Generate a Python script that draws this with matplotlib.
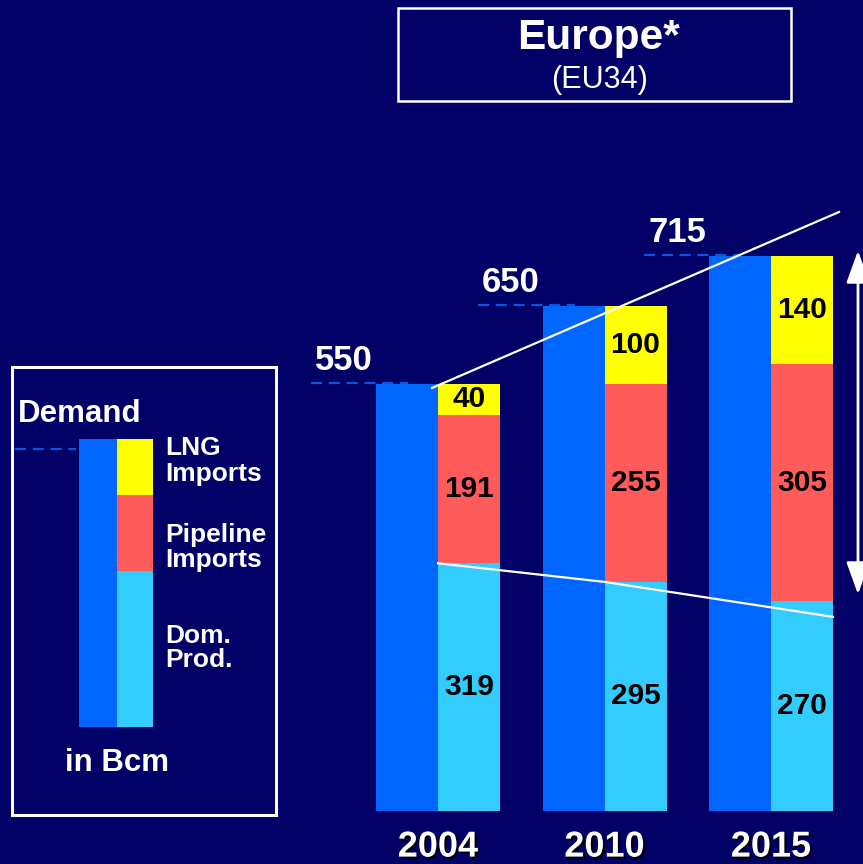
import matplotlib.pyplot as plt
import matplotlib.patheffects as pe
from matplotlib.patches import Rectangle, FancyArrowPatch
import numpy as np

plt.rcParams['font.family'] = ['Liberation Sans', 'DejaVu Sans']

years = ['2004', '2010', '2015']
demand = [550, 650, 715]
dom_prod = [319, 295, 270]
pipeline = [191, 255, 305]
lng = [40, 100, 140]

bg = '#000066'
c_dem = '#0066FF'
c_dom = '#33CCFF'
c_pipe = '#FF5B5B'
c_lng = '#FFFF00'

W, H = 863, 864
fig = plt.figure(figsize=(W / 100, H / 100), dpi=100, facecolor=bg)

# bar area: 1 unit on x = 166.5 px, 1 Bcm = 0.7766 px, base line at y=811 px
sx, sy, x0, y0 = 166.5, 0.7766, 438, 811
ax = fig.add_axes([0, 0, 1, 1])
ax.set_facecolor(bg)
ax.set_xlim(-x0 / sx, (W - x0) / sx)
ax.set_ylim(-(H - y0) / sy, y0 / sy)
ax.axis('off')

def fx(px):
    return px / W

def fy(py):
    return 1 - py / H

def dx(px):
    return (px - x0) / sx

def dy(py):
    return (y0 - py) / sy

x = np.arange(len(years))
w = 62 / sx
ax.bar(x - w / 2, demand, width=w, color=c_dem, linewidth=0)
ax.bar(x + w / 2, dom_prod, width=w, color=c_dom, linewidth=0)
ax.bar(x + w / 2, pipeline, width=w, bottom=dom_prod, color=c_pipe, linewidth=0)
b2 = np.array(dom_prod) + np.array(pipeline)
ax.bar(x + w / 2, lng, width=w, bottom=b2, color=c_lng, linewidth=0)

for i in range(len(years)):
    left = x[i] - w
    ax.plot([left - 65 / sx, left + 32 / sx], [demand[i] + 1, demand[i] + 1],
            color='#0A55E0', lw=1.6, dashes=(5, 3))
    ax.annotate(str(demand[i]), (left - 32 / sx, demand[i]), xytext=(0, 5),
                textcoords='offset points', ha='center', va='bottom',
                color='white', fontsize=25, fontweight='bold')
    segs = [(0, dom_prod[i]), (dom_prod[i], pipeline[i]), (b2[i], lng[i])]
    for b, v in segs:
        ax.text(x[i] + w / 2, b + v / 2, str(v), ha='center', va='center',
                color='black', fontsize=21.5, fontweight='bold')
    ax.annotate(years[i], (x[i], 0), xytext=(0, -26), textcoords='offset points',
                ha='center', va='center', color='white', fontsize=26, fontweight='bold',
                path_effects=[pe.withSimplePatchShadow(offset=(1.5, -1.5),
                                                       shadow_rgbFace='black', alpha=0.9)])

# trend lines
ax.plot([dx(432), dx(839)], [dy(388), dy(212)], color='white', lw=1.6)
ax.plot([x[0], x[1], x[2] + w], [dom_prod[0], dom_prod[1], dom_prod[2] - 20],
        color='white', lw=1.6)

# double arrow on the right
arr = FancyArrowPatch((fx(858), fy(597)), (fx(858), fy(248)), transform=fig.transFigure,
                      arrowstyle='<|-|>,head_width=0.4,head_length=1.1',
                      mutation_scale=18, color='white', lw=2)
fig.patches.append(arr)

# title box
fig.patches.append(Rectangle((fx(398), fy(101)), fx(791) - fx(398), fy(8) - fy(101),
                             transform=fig.transFigure, fill=False, ec='white', lw=1.8))
fig.text(fx(598), fy(38), 'Europe*', ha='center', va='center', color='white',
         fontsize=30.5, fontweight='bold')
fig.text(fx(600), fy(80), '(EU34)', ha='center', va='center', color='white', fontsize=22)

# legend box
fig.patches.append(Rectangle((fx(12), fy(815)), fx(276) - fx(12), fy(367) - fy(815),
                             transform=fig.transFigure, fill=False, ec='white', lw=2.2))
fig.patches.append(Rectangle((fx(79), fy(727)), fx(117) - fx(79), fy(439) - fy(727),
                             transform=fig.transFigure, color=c_dem, lw=0))
for top, bot, c in [(439, 495, c_lng), (495, 571, c_pipe), (571, 727, c_dom)]:
    fig.patches.append(Rectangle((fx(117), fy(bot)), fx(153) - fx(117), fy(top) - fy(bot),
                                 transform=fig.transFigure, color=c, lw=0))
fig.lines.append(plt.Line2D([fx(15), fx(76)], [fy(449), fy(449)], transform=fig.transFigure,
                            color='#0A55E0', lw=1.6, dashes=(5, 3)))
fig.text(fx(18), fy(414), 'Demand', ha='left', va='center', color='white',
         fontsize=22.5, fontweight='bold')
for txt, yy in [('LNG', 448), ('Imports', 474), ('Pipeline', 535), ('Imports', 560),
                ('Dom.', 636), ('Prod.', 660)]:
    fig.text(fx(165), fy(yy), txt, ha='left', va='center', color='white',
             fontsize=19, fontweight='bold')
fig.text(fx(117), fy(763), 'in Bcm', ha='center', va='center', color='white',
         fontsize=22.5, fontweight='bold')

fig.savefig('out.png', dpi=100, facecolor=bg)
